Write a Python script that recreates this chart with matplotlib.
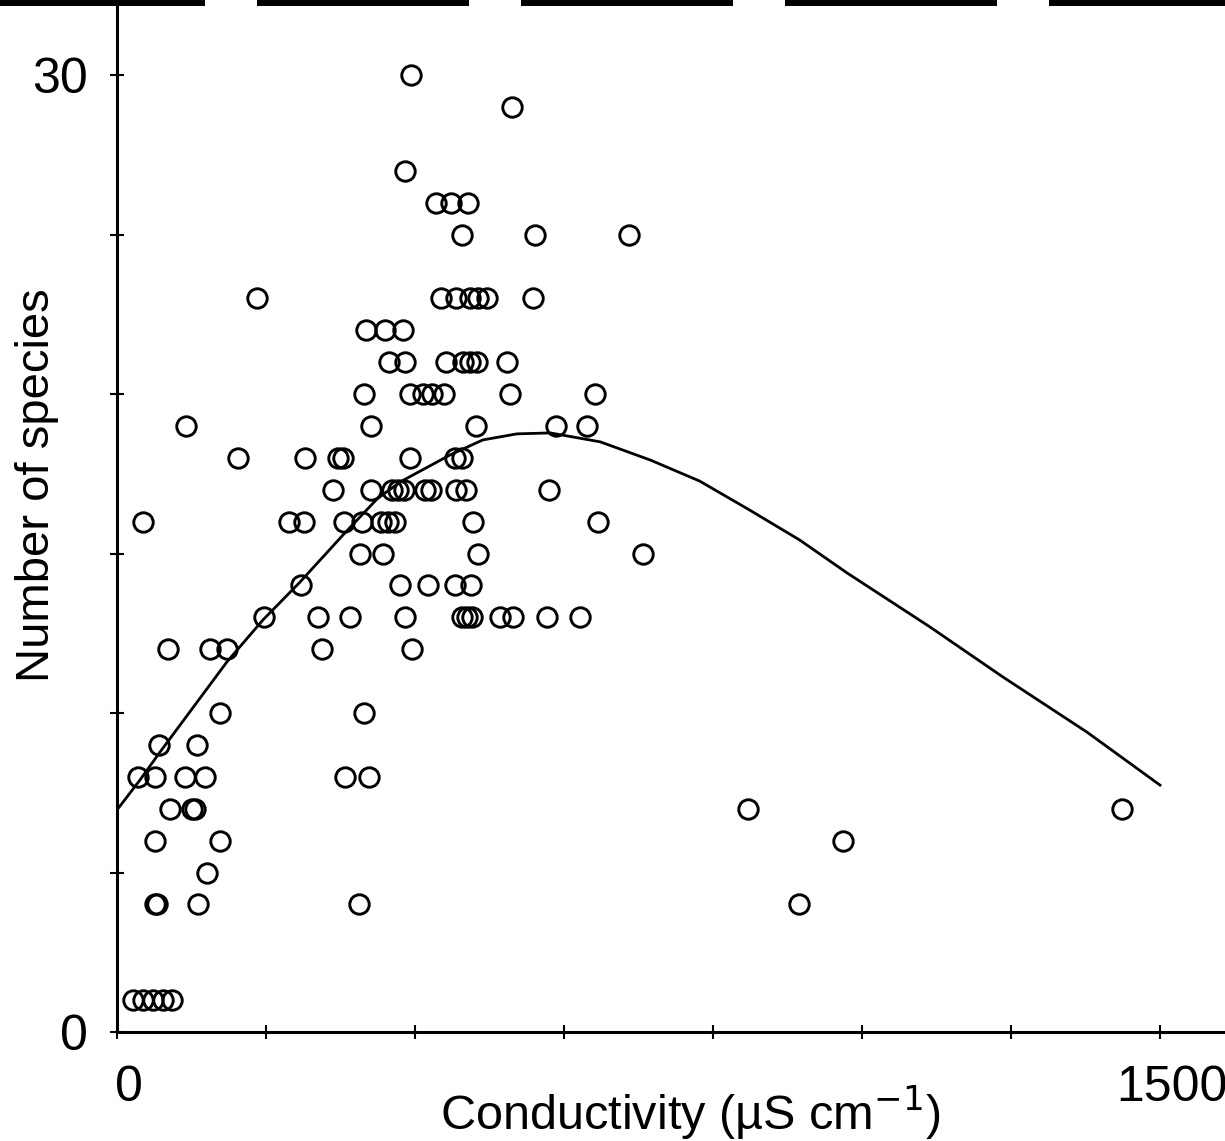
import matplotlib
matplotlib.use("Agg")
import matplotlib.pyplot as plt
from matplotlib.lines import Line2D
from matplotlib.transforms import ScaledTranslation
import numpy as np

plt.rcParams['font.family'] = ['Liberation Sans', 'DejaVu Sans']
plt.rcParams['lines.scale_dashes'] = False

# observed sites: conductivity (uS/cm) and number of species
conductivity = [
    423,
    568,
    414,
    459, 480, 505,
    496, 601, 736,
    201, 466, 488, 508, 519, 532, 598,
    358, 385, 411,
    391, 414, 473, 498, 508, 518, 561,
    355, 421, 440, 453, 470, 565, 687,
    99, 365, 516, 631, 676,
    174, 270, 318, 325, 421, 486, 496,
    311, 365, 396, 404, 413, 443, 452, 488, 502, 621,
    37, 247, 269, 326, 352, 380, 390, 400, 512, 692,
    349, 383, 519, 756,
    265, 407, 447, 486, 509,
    211, 289, 335, 414, 496, 503, 511, 551, 570, 618, 666,
    73, 134, 158, 295, 424,
    148, 355,
    60, 115,
    30, 55, 98, 127, 328, 362,
    76, 108, 112, 907, 1445,
    55, 148, 1044,
    129,
    55, 58, 116, 348, 981,
    23, 37, 52, 66, 79,
]
species = (
    [30] * 1 + [29] * 1 + [27] * 1 + [26] * 3 + [25] * 3 + [23] * 7
    + [22] * 3 + [21] * 7 + [20] * 7 + [19] * 5 + [18] * 7 + [17] * 10
    + [16] * 10 + [15] * 4 + [14] * 5 + [13] * 11 + [12] * 5 + [10] * 2
    + [9] * 2 + [8] * 6 + [7] * 5 + [6] * 3 + [5] * 1 + [4] * 5 + [1] * 5
)

# fitted response curve
fit_x = [0, 33, 62, 109, 158, 210, 263, 325, 374, 407, 479, 526, 575, 623,
         695, 767, 838, 910, 982, 1050, 1169, 1274, 1395, 1500]
fit_y = [6.96, 7.90, 8.78, 10.16, 11.60, 12.92, 14.10, 15.58, 16.71, 17.24,
         18.09, 18.56, 18.75, 18.78, 18.50, 17.93, 17.27, 16.36, 15.42, 14.39,
         12.70, 11.13, 9.40, 7.74]

x_ticks = np.linspace(0, 1500, 8)
x_ticklabels = ['0', '', '', '', '', '', '', '1500']
y_ticks = [0, 5, 10, 15, 20, 25, 30]
y_ticklabels = ['0', '', '', '', '', '', '30']

W, H = 1225, 1141
fig = plt.figure(figsize=(W / 100, H / 100), dpi=100)
ax = fig.add_axes([117 / W, 109 / H, 1 - 117 / W, 1 - 109 / H])

ax.plot(fit_x, fit_y, color='black', lw=2.0, zorder=2)
ax.plot(conductivity, species, 'o', mfc='none', mec='black', ms=14, mew=2.1,
        zorder=3, clip_on=False)

ax.set_xlim(0, (W - 117) * 1500 / 1043)
ax.set_ylim(0, 1032 / 31.9)

for s in ['top', 'right']:
    ax.spines[s].set_visible(False)
for s in ['left', 'bottom']:
    ax.spines[s].set_linewidth(2.2)

ax.set_xticks(x_ticks)
ax.set_xticklabels(x_ticklabels)
ax.set_yticks(y_ticks)
ax.set_yticklabels(y_ticklabels)
ax.tick_params(axis='both', direction='inout', length=10, width=1.5,
               labelsize=36)
ax.tick_params(axis='x', pad=18.5)
ax.tick_params(axis='y', pad=16)

off = ScaledTranslation(12 / 100, 0, fig.dpi_scale_trans)
for lab in ax.get_xticklabels():
    lab.set_transform(lab.get_transform() + off)

fig.text(690 / W, 1 - 1113 / H, 'Conductivity (µS cm$^{-1}$)',
         ha='center', va='center', fontsize=35)
fig.text(37 / W, 1 - 485 / H, 'Number of species', rotation=90,
         ha='center', va='center', fontsize=34)

# dashed frame edge along the top
top = Line2D([0, 1], [1 - 3 / H, 1 - 3 / H], transform=fig.transFigure,
             color='black', lw=4.3)
top.set_linestyle((7 * 0.72, (212 * 0.72, 52 * 0.72)))
top.set_dash_capstyle('butt')
fig.add_artist(top)

fig.savefig('out.png', dpi=100)
